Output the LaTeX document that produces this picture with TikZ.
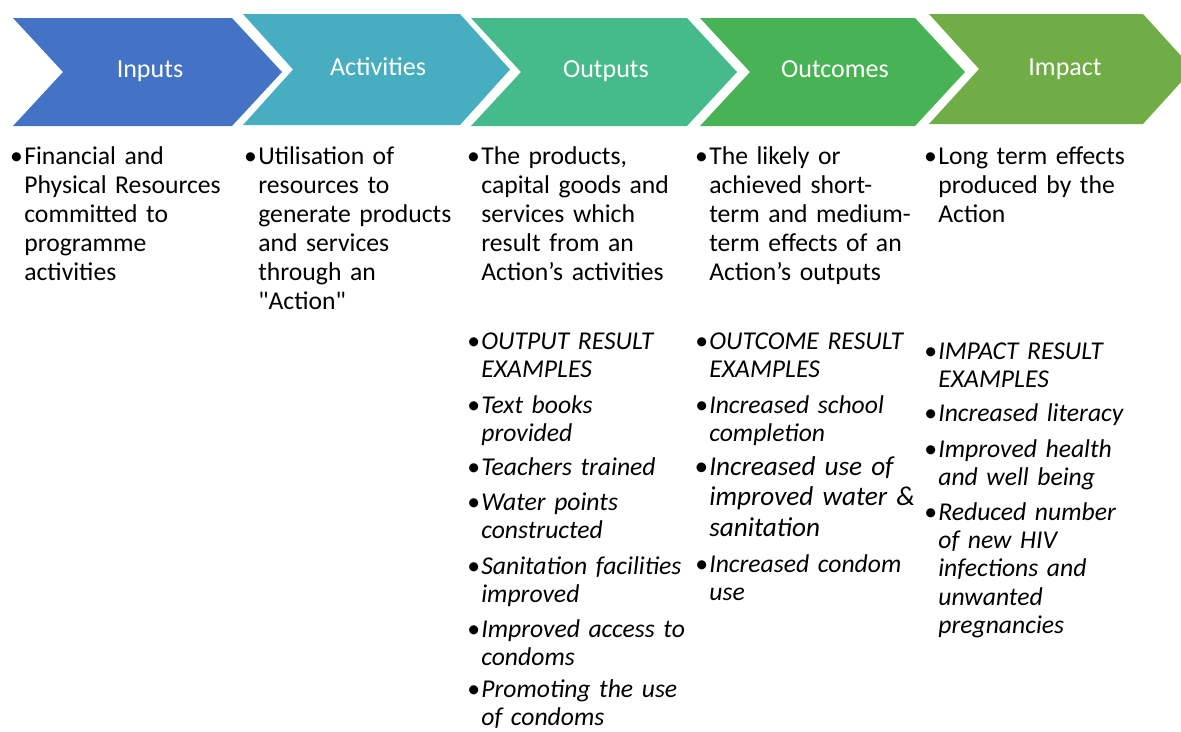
\documentclass[tikz,border=0pt]{standalone}
\usepackage{fontspec}
\setmainfont{Carlito}[Ligatures=TeXOff]

\definecolor{inputsblue}{RGB}{68,114,196}
\definecolor{activitiesteal}{RGB}{70,174,192}
\definecolor{outputsgreen}{RGB}{69,187,140}
\definecolor{outcomesgreen}{RGB}{72,179,84}
\definecolor{impactgreen}{RGB}{112,173,71}

\newcommand{\bul}{\llap{\textbullet\hspace{0.03cm}}}

\begin{document}
\begin{tikzpicture}[x=0.02cm, y=-0.02cm,
  head/.style={text=white, anchor=base, inner sep=0pt, font=\fontsize{14.8}{17}\selectfont},
  desc/.style={anchor=base west, inner sep=0pt, text width=4.4cm, align=left, font=\fontsize{14.6}{16.6}\selectfont},
  expl/.style={desc, font=\fontsize{14.6}{16.2}\selectfont\itshape},
  explbig/.style={desc, font=\fontsize{15.5}{17.6}\selectfont\itshape}]

\clip (0,0) rectangle (1181,731);

% the five chevrons
\fill[inputsblue] (13,18) -- (232,18) -- (282,72) -- (232,126) -- (13,126) -- (63,72) -- cycle;
\node[head] (H_inputs) at (150,77) {Inputs};

\fill[activitiesteal] (243,14) -- (460,14) -- (510,69.5) -- (460,125) -- (243,125) -- (293,69.5) -- cycle;
\node[head] (H_activities) at (378,75) {Activities};

\fill[outputsgreen] (471,18) -- (687,18) -- (737,72) -- (687,126) -- (471,126) -- (521,72) -- cycle;
\node[head] (H_outputs) at (606,77) {Outputs};

\fill[outcomesgreen] (700,18) -- (915,18) -- (965,72) -- (915,126) -- (700,126) -- (750,72) -- cycle;
\node[head] (H_outcomes) at (835,77) {Outcomes};

\fill[impactgreen] (929,14) -- (1143,14) -- (1193,69) -- (1143,124) -- (929,124) -- (979,69) -- cycle;
\node[head] (H_impact) at (1065,75) {Impact};

% what each step means
\node[desc] (D_inputs) at (24,164) {\bul Financial and\\Physical Resources\\committed to\\programme\\activities};
\node[desc] (D_activities) at (258,164) {\bul Utilisation of\\resources to\\generate products\\and services\\through an\\"Action"};
\node[desc] (D_outputs) at (481,164) {\bul The products,\\capital goods and\\services which\\result from an\\Action’s activities};
\node[desc] (D_outcomes) at (709,164) {\bul The likely or\\achieved short-\\term and medium-\\term effects of an\\Action’s outputs};
\node[desc] (D_impact) at (938,164) {\bul Long term effects\\produced by the\\Action};

% output examples
\node[expl] (E_out0) at (481,349) {\bul OUTPUT RESULT\\EXAMPLES};
\node[expl] (E_out1) at (481,413) {\bul Text books\\provided};
\node[expl] (E_out2) at (481,475) {\bul Teachers trained};
\node[expl] (E_out3) at (481,510) {\bul Water points\\constructed};
\node[expl] (E_out4) at (481,574) {\bul Sanitation facilities\\improved};
\node[expl] (E_out5) at (481,637) {\bul Improved access to\\condoms};
\node[expl] (E_out6) at (481,697) {\bul Promoting the use\\of condoms};

% outcome examples
\node[expl] (E_oc0) at (709,349) {\bul OUTCOME RESULT\\EXAMPLES};
\node[expl] (E_oc1) at (709,413) {\bul Increased school\\completion};
\node[explbig] (E_oc2) at (709,475) {\bul Increased use of\\improved water \&\\sanitation};
\node[expl] (E_oc3) at (709,572) {\bul Increased condom\\use};

% impact examples
\node[expl] (E_im0) at (938,359) {\bul IMPACT RESULT\\EXAMPLES};
\node[expl] (E_im1) at (938,421) {\bul Increased literacy};
\node[expl] (E_im2) at (938,457) {\bul Improved health\\and well being};
\node[expl] (E_im3) at (938,520) {\bul Reduced number\\of new HIV\\infections and\\unwanted\\pregnancies};

\end{tikzpicture}
\end{document}
